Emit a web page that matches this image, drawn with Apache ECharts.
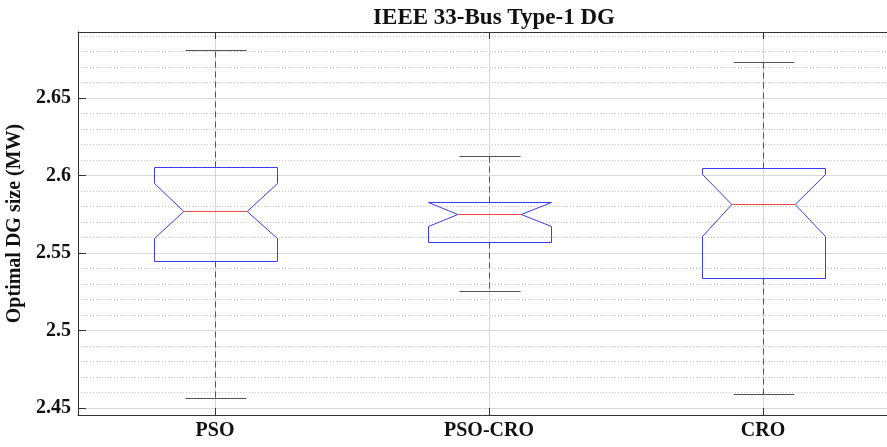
<!DOCTYPE html>
<html>
<head>
<meta charset="utf-8">
<script src="https://cdn.jsdelivr.net/npm/echarts@6/dist/echarts.min.js"></script>
<style>html,body{margin:0;padding:0;background:#fff;overflow:hidden;}#c{width:887px;height:447px;}</style>
</head>
<body>
<div id="c"></div>
<script>
const categories = ['PSO', 'PSO-CRO', 'CRO'];
const categoryPos = [1, 2, 3];
const whiskerLow  = [2.4565, 2.5253, 2.4588];
const q1          = [2.5448, 2.5573, 2.5339];
const notchLow    = [2.5599, 2.5674, 2.5610];
const median      = [2.5773, 2.5750, 2.5814];
const notchHigh   = [2.5950, 2.5827, 2.6010];
const q3          = [2.6053, 2.5827, 2.6046];
const whiskerHigh = [2.6810, 2.6126, 2.6734];
const yMajorTicks = [2.45, 2.5, 2.55, 2.6, 2.65];
const yMinorTicks = [2.46, 2.47, 2.48, 2.49, 2.51, 2.52, 2.53, 2.54, 2.56, 2.57, 2.58, 2.59, 2.61, 2.62, 2.63, 2.64, 2.66, 2.67, 2.68, 2.69];
const yMin = 2.4455, yMax = 2.6926;
const xMin = 0.5, xMax = 3.4526;

const boxData = categories.map((c, i) => [categoryPos[i], whiskerLow[i], q1[i], notchLow[i], median[i], notchHigh[i], q3[i], whiskerHigh[i]]);

const FONT = '"Liberation Serif", "Times New Roman", serif';
const chart = echarts.init(document.getElementById('c'), null, {renderer: 'canvas'});

function px(v) { return Math.round(v) + 0.5; }

function renderItem(params, api) {
  const x = api.value(0);
  const bw = api.size([1, 0])[0];
  const cx = px(api.coord([x, api.value(4)])[0]);
  const hw = bw * 0.2245, nw = bw * 0.1157, cw = bw * 0.1125;
  const Y = i => px(api.coord([x, api.value(i)])[1]);
  const yWL = Y(1), yQ1 = Y(2), yNL = Y(3), yM = Y(4), yNH = Y(5), yQ3 = Y(6), yWH = Y(7);
  const L = px(cx - hw), R = px(cx + hw);
  const gray = '#555555';
  return {
    type: 'group',
    children: [
      {type: 'line', shape: {x1: cx, y1: yQ3, x2: cx, y2: yWH}, style: {stroke: gray, lineWidth: 1, lineDash: [6, 4]}},
      {type: 'line', shape: {x1: cx, y1: yQ1, x2: cx, y2: yWL}, style: {stroke: gray, lineWidth: 1, lineDash: [6, 4]}},
      {type: 'line', shape: {x1: px(cx - cw), y1: yWH, x2: px(cx + cw), y2: yWH}, style: {stroke: gray, lineWidth: 1}},
      {type: 'line', shape: {x1: px(cx - cw), y1: yWL, x2: px(cx + cw), y2: yWL}, style: {stroke: gray, lineWidth: 1}},
      {type: 'polygon', shape: {points: [
        [L, yQ1], [L, yNL], [cx - nw, yM], [L, yNH], [L, yQ3],
        [R, yQ3], [R, yNH], [cx + nw, yM], [R, yNL], [R, yQ1]
      ]}, style: {fill: 'none', stroke: '#3b3bf0', lineWidth: 1}},
      {type: 'line', shape: {x1: cx - nw, y1: yM, x2: cx + nw, y2: yM}, style: {stroke: '#f04848', lineWidth: 1}}
    ]
  };
}

const fmtY = v => String(parseFloat(Number(v).toFixed(4)));
const fmtX = v => categories[categoryPos.indexOf(Math.round(v))] || '';
const gridBox = {left: 78, top: 32, width: 809, height: 383, outerBoundsMode: 'none', containLabel: false};

chart.setOption({
  animation: false,
  backgroundColor: '#ffffff',
  title: {
    text: 'IEEE 33-Bus Type-1 DG',
    left: 489, top: 2, textAlign: 'center',
    textStyle: {fontFamily: FONT, fontWeight: 'bold', fontSize: 23, color: '#111'}
  },
  grid: [Object.assign({}, gridBox), Object.assign({}, gridBox)],
  xAxis: [{
    type: 'value', min: xMin, max: xMax, position: 'bottom', gridIndex: 0,
    axisLine: {show: true, lineStyle: {color: '#333', width: 1}},
    axisTick: {show: true, inside: true, length: 7, customValues: categoryPos, lineStyle: {color: '#333'}},
    axisLabel: {customValues: categoryPos, formatter: fmtX, fontFamily: FONT, fontWeight: 'bold', fontSize: 20, color: '#111', margin: 6},
    splitLine: {show: true, lineStyle: {color: '#d6d6d6', width: 1}}
  }, {
    type: 'value', min: xMin, max: xMax, position: 'top', gridIndex: 0,
    axisLine: {show: true, lineStyle: {color: '#333', width: 1}},
    axisTick: {show: true, inside: true, length: 7, customValues: categoryPos, lineStyle: {color: '#333'}},
    axisLabel: {show: false, customValues: categoryPos},
    splitLine: {show: false}
  }, {
    type: 'value', min: xMin, max: xMax, gridIndex: 1,
    axisLine: {show: false}, axisTick: {show: false}, axisLabel: {show: false}, splitLine: {show: false}
  }],
  yAxis: [{
    type: 'value', min: yMin, max: yMax, position: 'left', gridIndex: 0,
    name: 'Optimal DG size (MW)', nameLocation: 'middle', nameGap: 52, nameRotate: 90,
    nameTextStyle: {fontFamily: FONT, fontWeight: 'bold', fontSize: 20, color: '#111'},
    axisLine: {show: true, lineStyle: {color: '#333', width: 1}},
    axisTick: {show: true, inside: true, length: 8, customValues: yMajorTicks, lineStyle: {color: '#333'}},
    axisLabel: {customValues: yMajorTicks, fontFamily: FONT, fontWeight: 'bold', fontSize: 20, color: '#111', margin: 7, formatter: fmtY},
    splitLine: {show: true, lineStyle: {color: '#d9d9d9', width: 1}}
  }, {
    type: 'value', min: yMin, max: yMax, position: 'left', gridIndex: 1,
    axisLine: {show: false},
    axisTick: {show: false, customValues: yMinorTicks},
    axisLabel: {show: false, customValues: yMinorTicks},
    splitLine: {show: true, lineStyle: {color: '#c8c8c8', width: 1, type: [1, 2]}}
  }],
  series: [{
    type: 'custom',
    xAxisIndex: 0, yAxisIndex: 0,
    renderItem: renderItem,
    encode: {x: 0, y: [1, 2, 3, 4, 5, 6, 7]},
    data: boxData,
    clip: false
  }]
});
</script>
</body>
</html>
